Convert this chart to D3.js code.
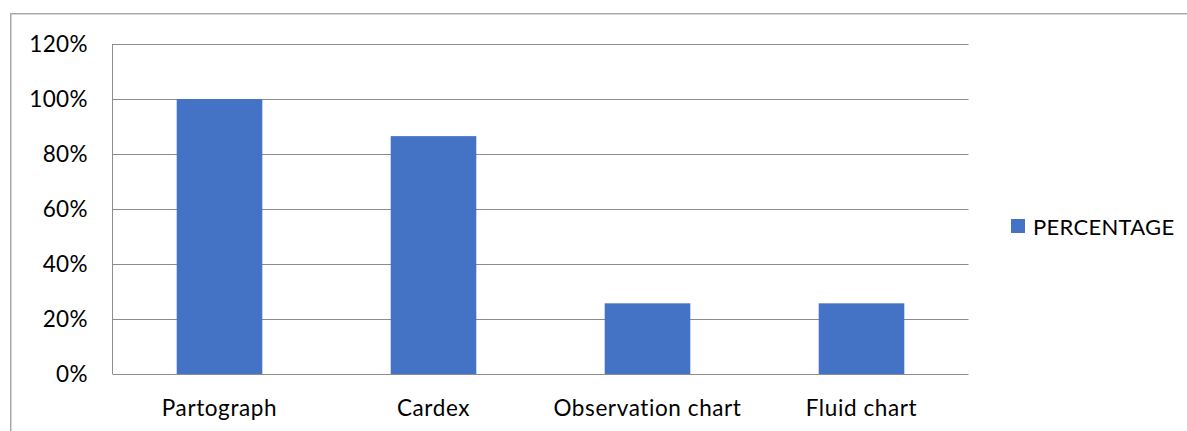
<!DOCTYPE html>
<html><head><meta charset="utf-8">
<script src="https://cdn.jsdelivr.net/npm/d3@7"></script>
<style>body{margin:0;background:#fff}svg{display:block}text{font-family:Lato,"Open Sans",sans-serif;fill:#000}</style>
</head><body><svg id="c" width="1187" height="431"></svg>
<script>
const categories = ["Partograph","Cardex","Observation chart","Fluid chart"];
const values = [1.00, 0.865, 0.257, 0.257];
const yTicks = [0,0.2,0.4,0.6,0.8,1.0,1.2];
const seriesName = "PERCENTAGE";

const svg = d3.select("#c");
const L=112.5, R=968.5, T=44, B=374;
svg.append("rect").attr("x",10.75).attr("y",13.75).attr("width",1187).attr("height",431).attr("fill","none").attr("stroke","#a9a9a9").attr("stroke-width",1.5);
const x = d3.scaleBand().domain(categories).range([L,R]);
const y = d3.scaleLinear().domain([0,1.2]).range([B,T]);
const g = svg.append("g");
g.selectAll(".grid").data(yTicks).join("line").attr("x1",L).attr("x2",R)
 .attr("y1",d=>Math.round(y(d))+0.5).attr("y2",d=>Math.round(y(d))+0.5).attr("stroke","#8c8c8c").attr("stroke-width",1);
g.append("line").attr("x1",L).attr("x2",L).attr("y1",T).attr("y2",B).attr("stroke","#8c8c8c");
const bw = x.bandwidth()*0.4;
g.selectAll(".bar").data(categories).join("rect")
 .attr("x",d=>x(d)+x.bandwidth()/2-bw/2).attr("width",bw)
 .attr("y",(d,i)=>y(values[i])).attr("height",(d,i)=>B-y(values[i])).attr("fill","#4472C4");
g.selectAll(".yl").data(yTicks).join("text").attr("x",88).attr("y",d=>y(d)).attr("dy","0.36em")
 .attr("text-anchor","end").style("font-size","22.5px").style("letter-spacing","0.4px").text(d=>Math.round(d*100)+"%");
g.selectAll(".xl").data(categories).join("text").attr("x",d=>x(d)+x.bandwidth()/2).attr("y",416)
 .attr("text-anchor","middle").style("font-size","22.5px").style("letter-spacing","0.6px").text(d=>d);
svg.append("rect").attr("x",1011).attr("y",219).attr("width",14).attr("height",14).attr("fill","#4472C4");
svg.append("text").attr("x",1033).attr("y",235).style("font-size","22px").style("letter-spacing","0.3px").text(seriesName);
</script></body></html>
